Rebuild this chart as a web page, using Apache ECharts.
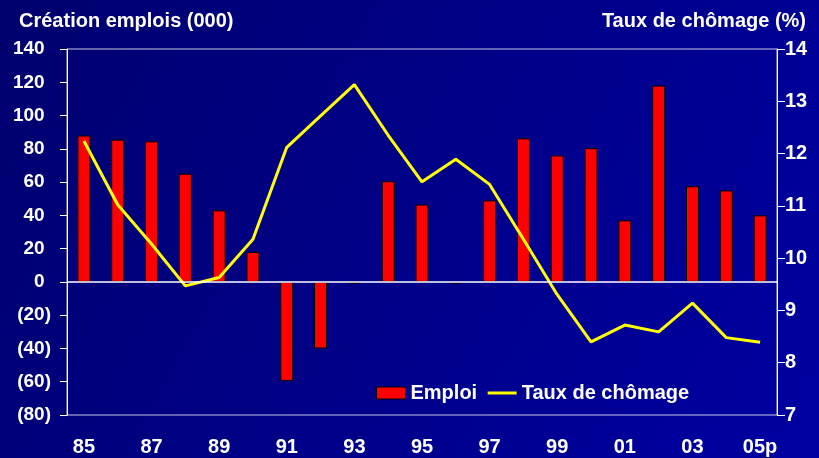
<!DOCTYPE html>
<html>
<head>
<meta charset="utf-8">
<script src="https://cdn.jsdelivr.net/npm/echarts@6/dist/echarts.min.js"></script>
<style>
html,body{margin:0;padding:0;}
#chart{width:819px;height:458px;}
</style>
</head>
<body>
<div id="chart"></div>
<script>
var annees = ['85','86','87','88','89','90','91','92','93','94','95','96','97','98','99','00','01','02','03','04','05p'];
// création d'emplois (000)
var emploi = [88, 85.5, 84.5, 65, 43, 18, -59.5, -40, -1, 60.5, 46.5, -1, 49, 86.3, 76, 80.4, 37, 118, 57.5, 55, 40];
// taux de chômage (%)
var chomage = [12.24, 11.02, 10.27, 9.47, 9.63, 10.36, 12.12, 12.72, 13.32, 12.35, 11.46, 11.89, 11.41, 10.36, 9.3, 8.4, 8.72, 8.59, 9.14, 8.48, 8.39];

var police = 'Liberation Sans, Arial, sans-serif';

var myChart = echarts.init(document.getElementById('chart'));
var option = {
	backgroundColor: new echarts.graphic.LinearGradient(0, 0, 1, 1, [
		{offset: 0, color: '#00006e'},
		{offset: 1, color: '#0000a2'}
	]),
	animation: false,
	textStyle: {fontFamily: police},
	title: [
		{text: 'Création emplois (000)', left: 14, top: 6,
			textStyle: {color: '#fff', fontSize: 20, fontWeight: 'bold', fontFamily: police}},
		{text: 'Taux de chômage (%)', right: 8, top: 6,
			textStyle: {color: '#fff', fontSize: 20, fontWeight: 'bold', fontFamily: police}}
	],
	grid: {left: 67, right: 42, top: 49, bottom: 43, show: true,
		borderColor: '#c8c8e8', borderWidth: 1, backgroundColor: 'transparent'},
	legend: {
		left: 371, top: 378, itemWidth: 29, itemHeight: 12, itemGap: 9,
		textStyle: {color: '#fff', fontSize: 20, fontWeight: 'bold', fontFamily: police},
		data: [
			{name: 'Emploi', icon: 'rect', itemStyle: {color: '#ff0000', borderColor: '#000', borderWidth: 1}},
			{name: 'Taux de chômage', itemStyle: {opacity: 0}, lineStyle: {color: '#ffff00', width: 3}}
		]
	},
	xAxis: {
		type: 'category',
		data: annees,
		axisLine: {show: false, onZero: false},
		axisTick: {show: false},
		axisLabel: {color: '#fff', fontSize: 20, fontWeight: 'bold', interval: 1, margin: 22}
	},
	yAxis: [
		{type: 'value', min: -80, max: 140, interval: 20,
			axisLine: {show: true, lineStyle: {color: '#fff', width: 1}},
			axisTick: {show: true, length: 7, lineStyle: {color: '#fff'}},
			splitLine: {show: false},
			axisLabel: {color: '#fff', fontSize: 19, fontWeight: 'bold', margin: 16,
				formatter: function (v) { return v < 0 ? '(' + (-v) + ')' : v + '{p|)}'; },
				rich: {p: {color: 'transparent', fontSize: 19, fontWeight: 'bold'}}}
		},
		{type: 'value', min: 7, max: 14, interval: 1, position: 'right',
			axisLine: {show: true, lineStyle: {color: '#fff', width: 1}},
			axisTick: {show: true, length: 8, lineStyle: {color: '#fff'}},
			splitLine: {show: false},
			axisLabel: {color: '#fff', fontSize: 20, fontWeight: 'bold', margin: 8}
		}
	],
	series: [
		{name: 'Emploi', type: 'bar', data: emploi, barWidth: 13,
			itemStyle: {color: '#ff0000', borderColor: '#000', borderWidth: 1},
			markLine: {silent: true, symbol: 'none', label: {show: false},
				lineStyle: {color: '#fff', width: 1.5, type: 'solid'},
				data: [{yAxis: 0}]}
		},
		{name: 'Taux de chômage', type: 'line', yAxisIndex: 1, data: chomage,
			symbol: 'none', lineStyle: {color: '#ffff00', width: 3}, itemStyle: {color: '#ffff00'}}
	]
};
myChart.setOption(option);
</script>
</body>
</html>
